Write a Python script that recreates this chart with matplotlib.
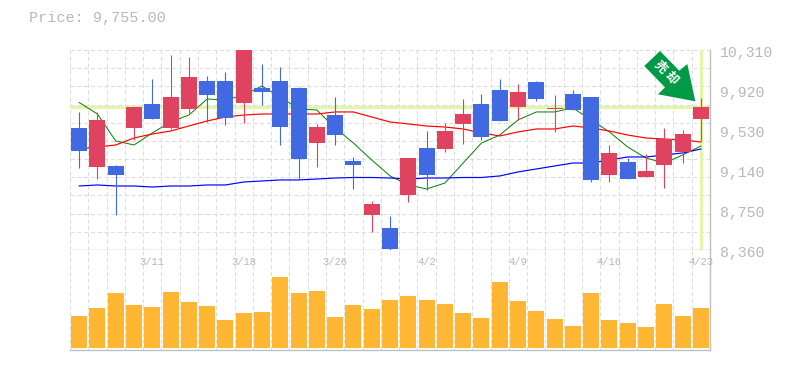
#!/usr/bin/env python3
import matplotlib.pyplot as plt
from matplotlib.patches import Polygon

OUTPUT_PATH = "out.png"
DPI = 100

PRICE_TITLE = "Price: 9,755.00"
PRICE_MIN = 8360
PRICE_MAX = 10310
PRICE_TICKS = [10310, 9920, 9530, 9140, 8750, 8360]
LAST_PRICE = 9755

DATE_POSITIONS = [4, 9, 14, 19, 24, 29, 34]
DATE_LABELS = ["3/11", "3/18", "3/26", "4/2", "4/9", "4/16", "4/23"]

OPENS = [9550, 9169, 9179, 9550, 9784, 9550, 9735, 10008, 10008, 9793, 9940, 10008,
         9940, 9403, 9676, 9228, 8701, 8575, 8896, 9355, 9345, 9589, 9784, 9920,
         9754, 9998, 9735, 9881, 9852, 9091, 9218, 9072, 9189, 9316, 9637]
HIGHS = [9706, 9706, 9189, 9754, 10027, 10261, 10242, 10057, 10096, 10310, 10174, 10144,
         9949, 9589, 9852, 9267, 8838, 8692, 9257, 9520, 9598, 9832, 9881, 10027,
         9979, 10008, 9871, 9920, 9852, 9384, 9257, 9296, 9550, 9530, 9842]
LOWS = [9160, 9052, 8701, 9433, 9637, 9540, 9696, 9608, 9579, 9598, 9774, 9384,
        9052, 9169, 9384, 8955, 8536, 8350, 8828, 8945, 9316, 9394, 9433, 9618,
        9628, 9813, 9511, 9725, 9023, 9023, 9052, 9072, 8965, 9208, 9423]
CLOSES = [9325, 9628, 9091, 9754, 9637, 9852, 10047, 9871, 9647, 10310, 9901, 9559,
          9247, 9559, 9481, 9189, 8809, 8370, 9257, 9091, 9520, 9686, 9462, 9618,
          9901, 9832, 9745, 9725, 9043, 9306, 9052, 9130, 9442, 9491, 9755]

MA_SHORT = [9798, 9686, 9423, 9384, 9501, 9608, 9676, 9832, 9823, 9871, 9959, 9852,
            9735, 9725, 9550, 9403, 9238, 9082, 8994, 8955, 9013, 9208, 9403, 9481,
            9628, 9706, 9706, 9745, 9628, 9511, 9364, 9257, 9208, 9286, 9374]
MA_MID = [9345, 9364, 9384, 9452, 9491, 9520, 9569, 9618, 9657, 9676, 9686, 9686,
          9686, 9686, 9706, 9706, 9657, 9608, 9589, 9569, 9559, 9540, 9501, 9472,
          9511, 9540, 9540, 9569, 9550, 9520, 9481, 9452, 9442, 9433, 9413]
MA_LONG = [8984, 8994, 8984, 8984, 8974, 8984, 8984, 8994, 8994, 9023, 9033, 9043,
           9043, 9052, 9062, 9067, 9067, 9062, 9052, 9062, 9062, 9067, 9067, 9082,
           9121, 9150, 9179, 9208, 9208, 9238, 9267, 9267, 9286, 9306, 9345]

VOLUMES = [32, 40, 55, 43, 41, 56, 46, 42, 28, 35, 36, 71, 55, 57, 31, 43, 39, 48,
           52, 48, 44, 35, 30, 66, 47, 37, 29, 22, 55, 28, 25, 21, 44, 32, 40]

ARROW_CHARS = ["売", "却"]

RED = "#e04360"
BLUE = "#4169e1"
ORANGE = "#ffb733"
GREEN = "#009944"
YELLOW = "#e3f5a8"
GRID = "#dddddd"
AXIS = "#c0c0c0"
TEXT = "#b8b8b8"


def px_axes(fig, left, top, right, bottom):
    width, height = fig.get_size_inches() * DPI
    return fig.add_axes([left / width, 1 - bottom / height,
                         (right - left) / width, (bottom - top) / height])


def style_grid(ax):
    ax.grid(True, color=GRID, linestyle=(0, (4, 2.5)), linewidth=0.75)
    ax.set_axisbelow(True)
    ax.tick_params(length=0, labelbottom=False, labelleft=False)
    ax.spines["left"].set_visible(False)
    ax.spines["top"].set_visible(False)
    for name in ("right", "bottom"):
        ax.spines[name].set_color(AXIS)
        ax.spines[name].set_linewidth(1.0)


def draw_price(ax):
    count = len(CLOSES)
    ax.set_xlim(-0.5, count - 0.5)
    ax.set_ylim(PRICE_MIN, PRICE_MAX)
    ax.set_xticks([i - 0.5 for i in range(count)])
    step = (PRICE_MAX - PRICE_MIN) / 11
    ax.set_yticks([PRICE_MIN + step * i for i in range(12)])
    style_grid(ax)

    ax.axhline(LAST_PRICE, color=YELLOW, linewidth=2.3, zorder=1.5)
    ax.axvline(count - 1, color=YELLOW, linewidth=2.2, zorder=1.5)

    xs = list(range(count))
    ax.plot(xs, MA_SHORT, color="#008000", linewidth=0.7, zorder=2)
    ax.plot(xs, MA_MID, color="#ff0000", linewidth=0.85, zorder=2)
    ax.plot(xs, MA_LONG, color="#0000ff", linewidth=0.85, zorder=2)

    for i in xs:
        color = RED if CLOSES[i] >= OPENS[i] else BLUE
        ax.vlines(i, LOWS[i], HIGHS[i], color=color, linewidth=0.8, zorder=3, clip_on=False)
        ax.bar(i, abs(CLOSES[i] - OPENS[i]), bottom=min(OPENS[i], CLOSES[i]),
               width=0.875, color=color, linewidth=0, zorder=3)

    for value in PRICE_TICKS:
        ax.annotate(f"{value:,}", xy=(1, value), xycoords=ax.get_yaxis_transform(),
                    xytext=(10, -3), textcoords="offset pixels", ha="left", va="center",
                    fontsize=10.7, color=TEXT, family="Liberation Mono", annotation_clip=False)


def draw_volume(ax):
    count = len(VOLUMES)
    ax.set_xlim(-0.5, count - 0.5)
    ax.set_ylim(-2, 98)
    ax.set_xticks([i - 0.5 for i in range(count)])
    ax.set_yticks([])
    style_grid(ax)
    ax.bar(range(count), VOLUMES, width=0.875, color=ORANGE, linewidth=0, zorder=3)
    for pos, label in zip(DATE_POSITIONS, DATE_LABELS):
        ax.text(pos, 0.88, label, transform=ax.get_xaxis_transform(), ha="center", va="center",
                fontsize=7.6, color=TEXT, family="Liberation Mono", zorder=5)


def draw_overlay(fig):
    ax = px_axes(fig, 0, 0, 785, 370)
    ax.set_xlim(0, 785)
    ax.set_ylim(370, 0)
    ax.axis("off")
    ax.patch.set_alpha(0)
    arrow = [(660, 51), (644.3, 66), (665, 87.3), (658, 94.3),
             (695.3, 101.3), (687.3, 64), (679.3, 70.7)]
    ax.add_patch(Polygon(arrow, closed=True, facecolor=GREEN, edgecolor="none"))
    for char, (x, y) in zip(ARROW_CHARS, [(660.5, 67), (671, 78)]):
        ax.text(x, y, char, rotation=-45, ha="center", va="center", fontsize=9,
                fontweight="bold", color="white", family="Noto Sans CJK JP",
                rotation_mode="anchor")
    ax.text(29, 18, PRICE_TITLE, ha="left", va="center", fontsize=10.9, color=TEXT,
            family="Liberation Mono")


def main():
    fig = plt.figure(figsize=(7.85, 3.7), dpi=DPI)
    fig.patch.set_facecolor("white")
    ax_price = px_axes(fig, 70, 50, 710, 250)
    ax_volume = px_axes(fig, 70, 250, 710, 350)
    draw_price(ax_price)
    draw_volume(ax_volume)
    draw_overlay(fig)
    fig.savefig(OUTPUT_PATH, dpi=DPI)
    plt.close(fig)


if __name__ == "__main__":
    main()
